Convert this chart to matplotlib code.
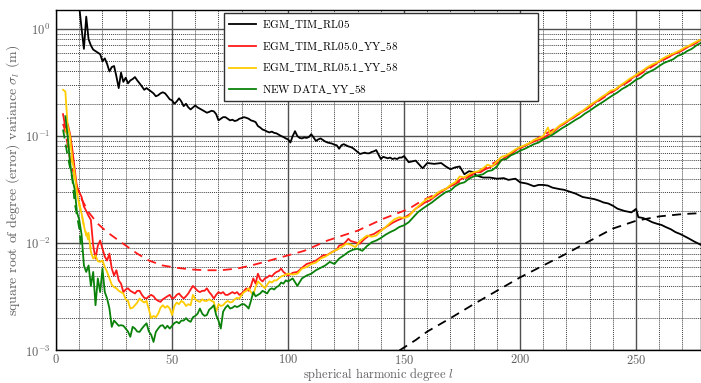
import matplotlib
matplotlib.use("Agg")
import matplotlib.pyplot as plt
from matplotlib.ticker import MultipleLocator, LogLocator, NullFormatter, FixedLocator

plt.rcParams['font.family'] = ['cmr10', 'DejaVu Serif']
plt.rcParams['mathtext.fontset'] = 'cm'
plt.rcParams['axes.formatter.use_mathtext'] = True
plt.rcParams['axes.unicode_minus'] = False

# ---------------- data ----------------
black_deg = [9, 10, 11, 12, 13, 14, 15, 16, 17, 18, 19, 20, 21, 22, 23, 24, 25, 26, 27, 28, 29, 30,
             31, 32, 33, 34, 35, 36, 37, 38, 39, 40, 41, 42, 43, 44, 45, 46, 47, 48, 49, 50, 51, 52,
             53, 54, 55, 56, 57, 58, 59, 60, 61, 62, 63, 64, 65, 66, 67, 68, 69, 70, 71, 72, 73, 74,
             75, 76, 77, 78, 79, 80, 81, 82, 83, 84, 85, 86, 87, 88, 89, 90, 91, 92, 93, 94, 95, 96,
             97, 98, 99, 100, 101, 102, 103, 104, 105, 106, 107, 108, 109, 110, 111, 112, 113, 114,
             115, 116, 117, 118, 119, 120, 121, 122, 123, 124, 125, 126, 127, 128, 129, 130, 131, 132,
             133, 134, 135, 136, 137, 138, 139, 140, 141, 142, 143, 144, 145, 146, 147, 148, 149, 150,
             152, 155, 158, 160, 163, 166, 168, 170, 172, 174, 176, 178, 180, 181, 184, 187, 190, 193,
             195, 198, 200, 203, 206, 208, 210, 212, 214, 217, 219, 222, 224, 227, 229, 232, 234, 236,
             238, 240, 242, 245, 248, 250, 251, 253, 255, 257, 259, 261, 263, 265, 267, 269, 271, 273,
             275, 277, 279]
black_val = [2.5, 1.6, 1.0, 0.65, 1.3, 0.80, 0.70, 0.64, 0.62, 0.60, 0.58, 0.50, 0.53, 0.47, 0.40,
             0.44, 0.45, 0.36, 0.28, 0.39, 0.32, 0.35, 0.31, 0.33, 0.34, 0.355, 0.33, 0.31, 0.29,
             0.27, 0.28, 0.27, 0.26, 0.25, 0.235, 0.24, 0.25, 0.256, 0.25, 0.235, 0.22, 0.215, 0.20,
             0.21, 0.225, 0.21, 0.19, 0.20, 0.185, 0.177, 0.185, 0.193, 0.185, 0.18, 0.175, 0.17,
             0.165, 0.168, 0.172, 0.17, 0.16, 0.14, 0.145, 0.15, 0.15, 0.145, 0.14, 0.142, 0.138,
             0.14, 0.145, 0.147, 0.15, 0.148, 0.145, 0.14, 0.138, 0.135, 0.124, 0.12, 0.115, 0.113,
             0.11, 0.108, 0.11, 0.107, 0.106, 0.103, 0.10, 0.098, 0.095, 0.093, 0.087, 0.10, 0.111,
             0.10, 0.096, 0.095, 0.097, 0.096, 0.098, 0.104, 0.097, 0.09, 0.093, 0.095, 0.092, 0.089,
             0.087, 0.086, 0.085, 0.083, 0.082, 0.076, 0.082, 0.084, 0.082, 0.08, 0.079, 0.077,
             0.074, 0.071, 0.068, 0.069, 0.07, 0.069, 0.069, 0.071, 0.072, 0.074, 0.067, 0.061,
             0.064, 0.063, 0.062, 0.063, 0.061, 0.062, 0.061, 0.063, 0.063, 0.065, 0.057, 0.059,
             0.050, 0.056, 0.055, 0.056, 0.052, 0.049, 0.051, 0.052, 0.044, 0.047, 0.046, 0.043,
             0.041, 0.041, 0.040, 0.0405, 0.039, 0.040, 0.037, 0.036, 0.034, 0.035, 0.035, 0.0345,
             0.033, 0.032, 0.0315, 0.030, 0.029, 0.027, 0.0265, 0.0258, 0.025, 0.024, 0.0235, 0.0224,
             0.021, 0.020, 0.0194, 0.0209, 0.0175, 0.0172, 0.0165, 0.0157, 0.0152, 0.0148, 0.0141,
             0.0135, 0.0127, 0.0122, 0.0116, 0.011, 0.0104, 0.0099, 0.0094]

black_model_deg = [148, 155, 160, 170, 180, 190, 200, 210, 220, 230, 240, 250, 260, 270, 280]
black_model_val = [0.001, 0.00125, 0.0015, 0.0020, 0.0027, 0.0036, 0.0048, 0.0062, 0.0080, 0.0105,
                   0.0137, 0.0162, 0.0178, 0.0187, 0.0192]

red_deg = list(range(3, 101)) + list(range(102, 114, 2)) + [114, 115, 117, 119, 121, 122, 124, 126,
          127, 129, 131, 133, 135] + list(range(137, 280, 2))
red_val = [0.16, 0.12, 0.13, 0.105, 0.075, 0.05, 0.033, 0.030, 0.027, 0.022, 0.020, 0.018, 0.0165,
           0.0095, 0.0072, 0.0095, 0.0106, 0.0089, 0.0075, 0.0069, 0.008, 0.0058, 0.005, 0.0056,
           0.0045, 0.0042, 0.0035, 0.0037, 0.0038, 0.0036, 0.0035, 0.0034, 0.0036, 0.0036, 0.0033,
           0.0031, 0.00305, 0.0032, 0.0033, 0.0032, 0.003, 0.0029, 0.00284, 0.003, 0.0031, 0.0032,
           0.0033, 0.00305, 0.0031, 0.0033, 0.0034, 0.0032, 0.00305, 0.0032, 0.0034, 0.0037, 0.0040,
           0.0038, 0.0036, 0.0035, 0.0036, 0.0036, 0.0038, 0.0035, 0.0033, 0.00305, 0.0033, 0.0035,
           0.0034, 0.0035, 0.0033, 0.0033, 0.0034, 0.0035, 0.0034, 0.0035, 0.0033, 0.0034, 0.0036,
           0.0038, 0.0036, 0.0040, 0.0047, 0.0042, 0.0052, 0.0046, 0.0044, 0.0047, 0.0048, 0.0050,
           0.0049, 0.0052, 0.0054, 0.0055, 0.0058, 0.0054, 0.0052, 0.0050,
           0.0053, 0.0054, 0.0059, 0.0064, 0.0066, 0.0069,
           0.0074, 0.0077, 0.0078, 0.0083, 0.0087, 0.0095, 0.0098, 0.011, 0.0105, 0.0102, 0.0099,
           0.011, 0.0118,
           0.0122, 0.013, 0.0136, 0.0145, 0.0155, 0.0163, 0.017, 0.0178, 0.019, 0.021, 0.0224,
           0.024, 0.025, 0.027, 0.029, 0.031, 0.033, 0.035, 0.038, 0.040, 0.042, 0.044, 0.046,
           0.046, 0.049, 0.051, 0.054, 0.057, 0.062, 0.066, 0.070, 0.076, 0.079, 0.083, 0.087,
           0.091, 0.094, 0.099, 0.105, 0.112, 0.123, 0.13, 0.14, 0.148, 0.16, 0.17, 0.18, 0.195,
           0.21, 0.225, 0.24, 0.255, 0.27, 0.29, 0.31, 0.33, 0.355, 0.38, 0.40, 0.43, 0.455, 0.48,
           0.51, 0.535, 0.56, 0.59, 0.615, 0.65, 0.69, 0.73, 0.77, 0.81]

red_model_deg = [3, 4, 6, 9, 11, 14, 18, 22, 27, 31, 35, 40, 46, 52, 58, 64, 71, 78, 84, 90, 97,
                 107, 117, 130, 141, 152, 157, 165, 180, 200, 220, 240, 260, 279]
red_model_val = [0.13, 0.11, 0.061, 0.034, 0.0258, 0.0195, 0.0152, 0.0127, 0.0106, 0.0092, 0.0080,
                 0.0069, 0.0062, 0.0059, 0.0057, 0.0056, 0.0056, 0.0058, 0.0062, 0.0067, 0.0074,
                 0.0085, 0.0106, 0.0131, 0.0169, 0.0209, 0.0244, 0.0298, 0.044, 0.077, 0.135, 0.26,
                 0.49, 0.80]

yellow_deg = list(range(3, 99)) + list(range(100, 124, 2)) + [124, 125, 127, 129, 131, 134, 136,
             138, 140, 142, 144, 146, 148, 150, 152] + list(range(154, 212, 2)) + [212, 213] + \
             list(range(215, 280, 2))
yellow_val = [0.27, 0.26, 0.124, 0.10, 0.06, 0.045, 0.030, 0.0224, 0.019, 0.0145, 0.0118, 0.0125,
              0.0083, 0.0072, 0.0077, 0.0068, 0.0067, 0.0069, 0.006, 0.0054, 0.0047, 0.0041, 0.0039,
              0.0038, 0.0036, 0.0035, 0.0034, 0.003, 0.0029, 0.00246, 0.0025, 0.00264, 0.0028,
              0.00305, 0.0029, 0.0028, 0.0029, 0.0024, 0.0020, 0.0021, 0.00204, 0.0022, 0.0025,
              0.00264, 0.0025, 0.0026, 0.00246, 0.00214, 0.0026, 0.0028, 0.0027, 0.0029, 0.0028,
              0.0026, 0.0027, 0.00264, 0.0033, 0.003, 0.0029, 0.00284, 0.0030, 0.0029, 0.0029,
              0.0030, 0.0029, 0.00284, 0.0023, 0.0027, 0.0026, 0.00264, 0.0028, 0.0029, 0.0028,
              0.00284, 0.003, 0.0031, 0.00305, 0.0033, 0.0035, 0.0036, 0.0038, 0.0035, 0.0033,
              0.0039, 0.0044, 0.0042, 0.0040, 0.0038, 0.0041, 0.0044, 0.0043, 0.0045, 0.0045,
              0.0047, 0.0049, 0.0050,
              0.0052, 0.0051, 0.0052, 0.0058, 0.006, 0.0064, 0.0066, 0.0072, 0.0075, 0.008, 0.0085,
              0.0089,
              0.0095, 0.0099, 0.0097, 0.0092, 0.0105, 0.0118, 0.0115, 0.0118, 0.013, 0.0141, 0.0155,
              0.0168, 0.0175, 0.0172, 0.0178,
              0.020, 0.022, 0.024, 0.026, 0.0265, 0.029, 0.031, 0.032, 0.035, 0.037, 0.042, 0.041,
              0.044, 0.046, 0.047, 0.050, 0.054, 0.052, 0.058, 0.064, 0.066, 0.070, 0.075, 0.079,
              0.082, 0.086, 0.092, 0.095, 0.100,
              0.12, 0.105,
              0.115, 0.125, 0.133, 0.142, 0.152, 0.163, 0.172, 0.186, 0.20, 0.213, 0.23, 0.245,
              0.265, 0.272, 0.295, 0.315, 0.34, 0.36, 0.385, 0.41, 0.44, 0.465, 0.485, 0.52, 0.55,
              0.575, 0.60, 0.63, 0.67, 0.70, 0.74, 0.78, 0.80]

yellow_model_deg = [4, 5, 7, 8, 10, 12, 15]
yellow_model_val = [0.124, 0.09, 0.057, 0.040, 0.024, 0.0146, 0.0089]

green_deg = list(range(4, 101)) + list(range(102, 280, 2)) + [279]
green_val = [0.153, 0.10, 0.057, 0.04, 0.032, 0.0195, 0.0165, 0.012, 0.0062, 0.0054, 0.0062, 0.0040,
             0.0054, 0.00264, 0.0047, 0.0035, 0.0058, 0.0035, 0.00305, 0.00246, 0.00166, 0.0019,
             0.0018, 0.0017, 0.00172, 0.0017, 0.0016, 0.0015, 0.00134, 0.00166, 0.0016, 0.0015,
             0.00149, 0.0016, 0.0017, 0.00179, 0.0015, 0.0014, 0.0012, 0.00149, 0.0016, 0.0017,
             0.00172, 0.0016, 0.0017, 0.0016, 0.0017, 0.0018, 0.00185, 0.00179, 0.0019, 0.0019,
             0.0020, 0.0019, 0.00185, 0.00204, 0.0021, 0.0022, 0.00246, 0.0022, 0.0021, 0.00214,
             0.0024, 0.0025, 0.00264, 0.00214, 0.0019, 0.0016, 0.0023, 0.0025, 0.00264, 0.00246,
             0.0025, 0.0026, 0.00254, 0.0026, 0.0027, 0.0027, 0.0026, 0.00246, 0.0029, 0.0035,
             0.0032, 0.0033, 0.0034, 0.0036, 0.0035, 0.0034, 0.0037, 0.0038, 0.0037, 0.0039,
             0.0040, 0.0043, 0.0042, 0.0045, 0.0044,
             0.0047, 0.0040, 0.0047, 0.0050, 0.0052, 0.0056, 0.0059, 0.0062, 0.0067, 0.0064, 0.0072,
             0.0077, 0.0083, 0.0087, 0.0089, 0.0085, 0.0094, 0.0102, 0.0106, 0.0112, 0.012, 0.0127,
             0.0133, 0.0142, 0.0147, 0.0157, 0.0175, 0.0195, 0.021, 0.0225, 0.024, 0.026, 0.028,
             0.030, 0.031, 0.034, 0.036, 0.037, 0.040, 0.042, 0.043, 0.044, 0.047, 0.048, 0.052,
             0.060, 0.061, 0.066, 0.069, 0.073, 0.076, 0.080, 0.084, 0.087, 0.093, 0.097, 0.103,
             0.110, 0.118, 0.125, 0.133, 0.142, 0.150, 0.162, 0.172, 0.185, 0.197, 0.21, 0.225,
             0.24, 0.255, 0.275, 0.29, 0.31, 0.335, 0.35, 0.38, 0.40, 0.42, 0.45, 0.48, 0.50, 0.52,
             0.56, 0.58, 0.62, 0.65, 0.70, 0.74, 0.77]

green_model_deg = [3, 5, 7, 8, 10, 11]
green_model_val = [0.115, 0.065, 0.040, 0.024, 0.0137, 0.0083]

labels = [r'$\mathrm{EGM\_TIM\_RL05}$', r'$\mathrm{EGM\_TIM\_RL05.0\_YY\_58}$',
          r'$\mathrm{EGM\_TIM\_RL05.1\_YY\_58}$', r'$\mathrm{NEW\ DATA\_YY\_58}$']
x_ticks = [0, 50, 100, 150, 200, 250]

# ---------------- figure ----------------
fig = plt.figure(figsize=(7.01, 3.83), dpi=100)
ax = fig.add_axes([0.080, 0.085, 0.920, 0.889])

RED = '#ff1a1a'
YEL = '#ffcc00'
GRN = '#0a820a'
lw = 1.3
dash = (0, (5, 3.5))

ax.plot(black_model_deg, black_model_val, color='black', lw=lw, ls=dash)
ax.plot(red_model_deg, red_model_val, color=RED, lw=lw, ls=dash)
ax.plot(yellow_model_deg, yellow_model_val, color=YEL, lw=lw, ls=dash)
ax.plot(green_model_deg, green_model_val, color=GRN, lw=lw, ls=dash)

ax.plot(black_deg, black_val, color='black', lw=lw, label=labels[0])
ax.plot(red_deg, red_val, color=RED, lw=lw, label=labels[1])
ax.plot(yellow_deg, yellow_val, color=YEL, lw=lw, label=labels[2])
ax.plot(green_deg, green_val, color=GRN, lw=lw, label=labels[3])

ax.set_yscale('log')
ax.set_xlim(0, 278)
ax.set_ylim(1e-3, 1.5)

ax.xaxis.set_major_locator(FixedLocator(x_ticks))
ax.xaxis.set_minor_locator(MultipleLocator(10))
ax.yaxis.set_major_locator(LogLocator(base=10, numticks=10))
ax.yaxis.set_minor_locator(LogLocator(base=10, subs=range(2, 10), numticks=20))
ax.yaxis.set_minor_formatter(NullFormatter())

ax.grid(which='major', ls='-', color='#505050', lw=1.0)
ax.grid(which='minor', ls=(0, (1, 1)), color='#404040', lw=0.7)
ax.set_axisbelow(True)

txtc = '#606060'
ax.tick_params(which='both', direction='in', length=0, labelsize=9, labelcolor=txtc, pad=4)
ax.tick_params(axis='x', pad=2)
for s in ax.spines.values():
    s.set_color('black')
    s.set_linewidth(1.0)

ax.set_xlabel('spherical harmonic degree $l$', fontsize=9, color=txtc)
ax.xaxis.set_label_coords(0.5, -0.046)
ax.set_ylabel(r'square root of degree (error) variance $\sigma_l$ (m)', fontsize=10,
              color=txtc, labelpad=2)

leg = ax.legend(loc='upper left', bbox_to_anchor=(0.26, 0.752, 0.487, 0.24), mode='expand',
                fontsize=8.0, frameon=True, fancybox=False, framealpha=1, edgecolor='#303030',
                handlelength=2.4, labelspacing=0.8, borderaxespad=0, handletextpad=0.5,
                borderpad=0.5)
leg.get_frame().set_linewidth(1.0)

fig.savefig('out.png', dpi=100)
